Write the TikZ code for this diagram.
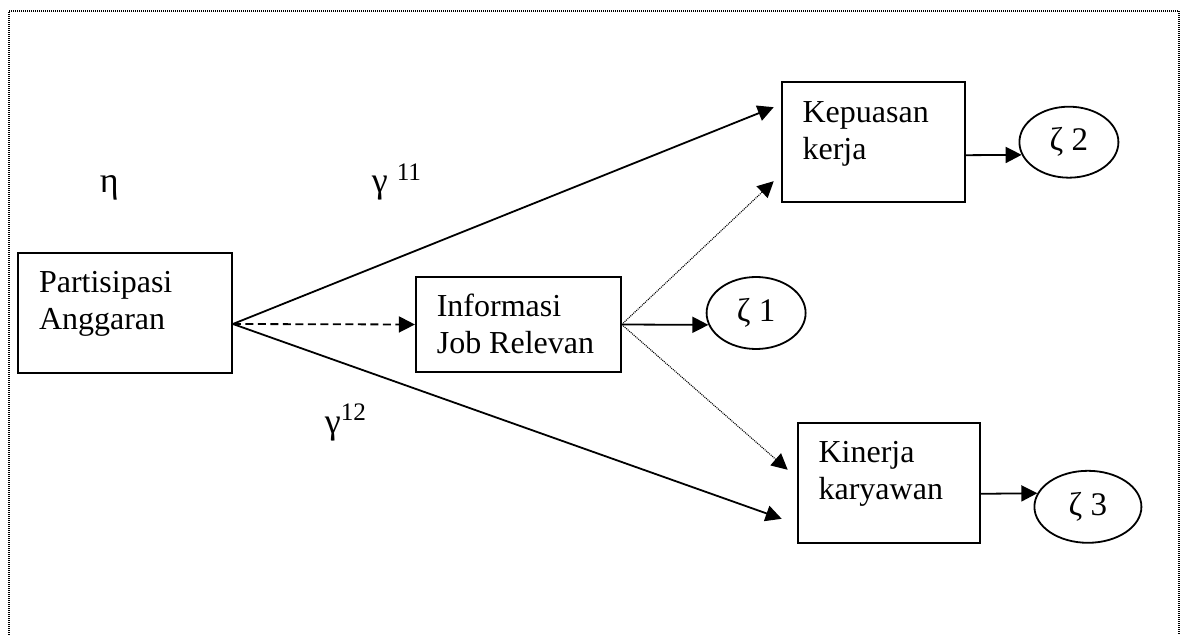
\documentclass[tikz,border=0pt]{standalone}
\usepackage{fontspec}
\setmainfont{Liberation Serif}
\usetikzlibrary{positioning, shapes.geometric, arrows.meta}
\tikzset{
  var/.style={
    rectangle,
    draw=black, line width=0.9pt,
    inner sep=0pt,
    font=\fontsize{16}{18.5}\selectfont
  },
  resid/.style={
    ellipse,
    draw=black, line width=0.9pt,
    inner sep=0pt,
    minimum width=49.5pt, minimum height=36pt,
    font=\fontsize{16.5}{18}\selectfont
  },
  coef/.style={anchor=base west, inner sep=0pt, font=\fontsize{18}{20}\selectfont},
  thin dots/.style={line width=0.55pt, dash pattern=on 0.5pt off 0.5pt}
}
\newcommand{\vartext}[3]{\hspace*{10.5pt}\parbox[c][#2][t]{#1}{\rule{0pt}{20pt}#3}}

\begin{document}
\begin{tikzpicture}[x=0.5pt, y=-0.5pt, line width=0.9pt, >={Triangle[length=8pt,width=8pt]}]
  \useasboundingbox (0,0) rectangle (1186,635);
  % frame
  \draw[thin dots] (9,635) -- (9,11) -- (1179,11) -- (1179,635);

  \node[var] (pa) at (125,313) {\vartext{96.5pt}{60pt}{Partisipasi\\Anggaran}};
  \node[var] (ij) [right=91pt of pa, yshift=-5.75pt] {\vartext{92pt}{47.5pt}{Informasi\\Job Relevan}};
  \node[var] (kp) [above right=36.5pt and 79.5pt of ij] {\vartext{81pt}{60pt}{Kepuasan\\kerja}};
  \node[var] (kn) [below right=24.5pt and 87.5pt of ij] {\vartext{80.5pt}{60pt}{Kinerja\\karyawan}};
  \node[resid] (z1) [right=42pt of ij, yshift=5.75pt] {ζ 1};
  \node[resid, minimum height=35.5pt] (z2) [right=26.5pt of kp] {ζ 2};
  \node[resid, minimum width=53.5pt] (z3) [right=26.5pt of kn, yshift=-12pt] {ζ 3};

  \node[coef] (eta) at (99,193) {η};
  \node[coef] (g11) at (371,193) {γ \textsuperscript{11}};
  \node[coef] (g12) at (324,433) {γ\textsuperscript{12}};

  \draw[->] ([yshift=-5.5pt]pa.east) -- ([shift={(-7,-35)}]kp.west);
  \draw[->] ([yshift=-5.5pt]pa.east) -- ([shift={(-15,36)}]kn.west);
  \draw[->, dash pattern=on 4pt off 2.25pt] ([yshift=-5.5pt]pa.east) -- (ij.west);
  \draw[->, thin dots] (ij.east) -- ([shift={(-7,39)}]kp.west);
  \draw[->, thin dots] (ij.east) -- ([shift={(-9,-13)}]kn.west);
  \draw[->] (ij.east) -- (z1.194);
  \draw[->] ([yshift=-6.5pt]kp.east) -- (z2.195);
  \draw[->] ([yshift=-5.5pt]kn.east) -- (z3.165);
\end{tikzpicture}
\end{document}
